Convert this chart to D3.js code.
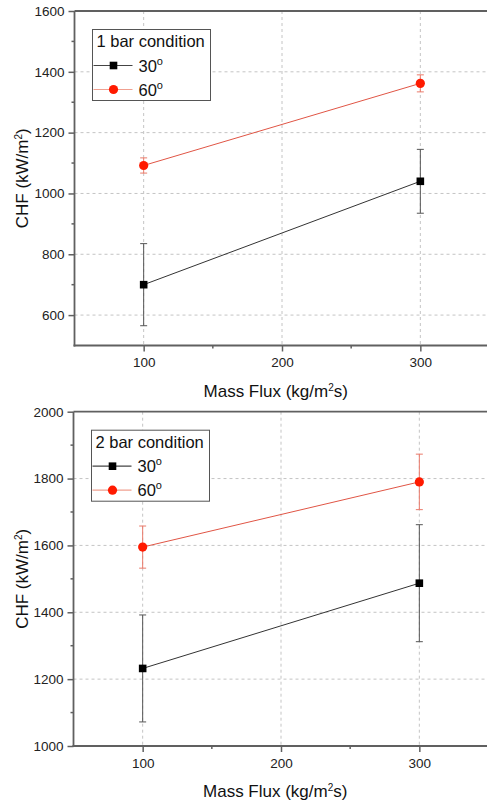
<!DOCTYPE html>
<html>
<head>
<meta charset="utf-8">
<script src="https://cdn.jsdelivr.net/npm/d3@7"></script>
<style>
  body { margin: 0; background: #fff; }
  svg { display: block; font-family: "Liberation Sans", Arial, sans-serif; }
</style>
</head>
<body>
<div id="chart"></div>
<script>
// x values (mass flux, kg/m2s)
var massFlux = [100, 300];

// 1 bar condition
var chf1bar30 = [700, 1040];
var err1bar30 = [135, 105];
var chf1bar60 = [1092, 1362];
var err1bar60 = [25, 28];

// 2 bar condition
var chf2bar30 = [1232, 1487];
var err2bar30 = [160, 175];
var chf2bar60 = [1595, 1790];
var err2bar60 = [63, 83];

var xMajor = [100, 200, 300];
var xMinor = [150, 250];
var yMajor1 = [600, 800, 1000, 1200, 1400, 1600];
var yMinor1 = [700, 900, 1100, 1300, 1500];
var yMajor2 = [1000, 1200, 1400, 1600, 1800, 2000];
var yMinor2 = [1100, 1300, 1500, 1700, 1900];

var W = 487, H = 803;
var axisCol = "#606060", gridCol = "#c4c4c4";
var blackCol = "#000", redCol = "#ff1a00";

var svg = d3.select("#chart").append("svg")
    .attr("width", W)
    .attr("height", H);

function drawPanel(p) {
    var x = d3.scaleLinear().domain([50, 350]).range([p.left, p.right]);
    var y = d3.scaleLinear().domain(p.yDomain).range([p.bottom, p.top]);
    var g = svg.append("g");

    // grid
    g.selectAll(".vgrid").data(xMajor).enter().append("line")
        .attr("x1", function(d) { return x(d); }).attr("x2", function(d) { return x(d); })
        .attr("y1", p.top).attr("y2", p.bottom)
        .attr("stroke", gridCol).attr("stroke-width", 1).attr("stroke-dasharray", "3,3");
    g.selectAll(".hgrid").data(p.yMajor.filter(function(d) { return d > p.yDomain[0] && d < p.yDomain[1]; }))
        .enter().append("line")
        .attr("x1", p.left).attr("x2", W)
        .attr("y1", function(d) { return y(d); }).attr("y2", function(d) { return y(d); })
        .attr("stroke", gridCol).attr("stroke-width", 1).attr("stroke-dasharray", "3,3");

    // axes
    var xAxis = d3.axisBottom(x).tickValues(xMajor).tickFormat(d3.format("d")).tickSize(6).tickPadding(6);
    var gx = g.append("g").attr("transform", "translate(0," + p.bottom + ")").call(xAxis);
    var yAxis = d3.axisLeft(y).tickValues(p.yMajor).tickFormat(d3.format("d")).tickSize(6).tickPadding(4);
    var gy = g.append("g").attr("transform", "translate(" + p.left + ",0)").call(yAxis);
    [gx, gy].forEach(function(a) {
        a.select(".domain").remove();
        a.selectAll("line").attr("stroke", axisCol).attr("stroke-width", 1.5);
        a.selectAll("text").attr("fill", "#222").style("font-size", "13.5px")
            .style("font-family", "Liberation Sans, Arial, sans-serif");
    });
    gx.selectAll("text").attr("dy", "0.72em");

    // minor ticks
    g.selectAll(".xminor").data(xMinor).enter().append("line")
        .attr("x1", function(d) { return x(d); }).attr("x2", function(d) { return x(d); })
        .attr("y1", p.bottom).attr("y2", p.bottom + 3)
        .attr("stroke", axisCol).attr("stroke-width", 1.5);
    g.selectAll(".yminor").data(p.yMinor).enter().append("line")
        .attr("x1", p.left - 3).attr("x2", p.left)
        .attr("y1", function(d) { return y(d); }).attr("y2", function(d) { return y(d); })
        .attr("stroke", axisCol).attr("stroke-width", 1.5);

    // frame lines
    g.append("line").attr("x1", p.left).attr("x2", p.left).attr("y1", p.top).attr("y2", p.bottom + 1)
        .attr("stroke", axisCol).attr("stroke-width", 1.8);
    g.append("line").attr("x1", p.left - 1).attr("x2", W).attr("y1", p.bottom).attr("y2", p.bottom)
        .attr("stroke", axisCol).attr("stroke-width", 1.8);
    g.append("line").attr("x1", p.left).attr("x2", W).attr("y1", p.top).attr("y2", p.top)
        .attr("stroke", axisCol).attr("stroke-width", 1.8);

    // series
    var line = d3.line().x(function(d) { return x(d[0]); }).y(function(d) { return y(d[1]); });
    p.series.forEach(function(s) {
        var pts = massFlux.map(function(m, i) { return [m, s.vals[i], s.errs[i]]; });
        // error bars
        var eb = g.append("g").attr("stroke", s.errCol).attr("stroke-width", 1);
        eb.selectAll(".ev").data(pts).enter().append("line")
            .attr("x1", function(d) { return x(d[0]); }).attr("x2", function(d) { return x(d[0]); })
            .attr("y1", function(d) { return y(d[1] - d[2]); }).attr("y2", function(d) { return y(d[1] + d[2]); });
        eb.selectAll(".et").data(pts).enter().append("line")
            .attr("x1", function(d) { return x(d[0]) - 3.5; }).attr("x2", function(d) { return x(d[0]) + 3.5; })
            .attr("y1", function(d) { return y(d[1] + d[2]); }).attr("y2", function(d) { return y(d[1] + d[2]); });
        eb.selectAll(".eb").data(pts).enter().append("line")
            .attr("x1", function(d) { return x(d[0]) - 3.5; }).attr("x2", function(d) { return x(d[0]) + 3.5; })
            .attr("y1", function(d) { return y(d[1] - d[2]); }).attr("y2", function(d) { return y(d[1] - d[2]); });
        g.append("path").datum(pts).attr("d", line)
            .attr("fill", "none").attr("stroke", s.lineCol).attr("stroke-width", 1);
        if (s.shape == "square") {
            g.selectAll(".sq").data(pts).enter().append("rect")
                .attr("x", function(d) { return x(d[0]) - 3.8; }).attr("y", function(d) { return y(d[1]) - 3.8; })
                .attr("width", 7.6).attr("height", 7.6).attr("fill", s.col);
        } else {
            g.selectAll(".ci").data(pts).enter().append("circle")
                .attr("cx", function(d) { return x(d[0]); }).attr("cy", function(d) { return y(d[1]); })
                .attr("r", 4.6).attr("fill", s.col);
        }
    });

    // axis titles
    var xt = g.append("text").attr("x", (p.left + 489) / 2 - 6).attr("y", p.bottom + 51)
        .attr("text-anchor", "middle").style("font-size", "17px").attr("fill", "#111");
    xt.append("tspan").text("Mass Flux (kg/m");
    xt.append("tspan").attr("dy", -6).style("font-size", "10px").text("2");
    xt.append("tspan").attr("dy", 6).text("s)");

    var yt = g.append("text")
        .attr("transform", "translate(" + 28 + "," + ((p.top + p.bottom) / 2) + ") rotate(-90)")
        .attr("text-anchor", "middle").style("font-size", "17px").attr("fill", "#111");
    yt.append("tspan").text("CHF (kW/m");
    yt.append("tspan").attr("dy", -6).style("font-size", "10px").text("2");
    yt.append("tspan").attr("dy", 6).text(")");

    // legend
    var lx = p.left + 18, ly = p.top + 18.5;
    var lg = g.append("g").attr("transform", "translate(" + lx + "," + ly + ")");
    lg.append("rect").attr("width", 118).attr("height", 71)
        .attr("fill", "#fff").attr("stroke", "#555").attr("stroke-width", 1);
    lg.append("text").attr("x", 4).attr("y", 17.5).style("font-size", "16.5px").attr("fill", "#111")
        .text(p.title);
    p.series.forEach(function(s, i) {
        var cy = 36 + i * 24;
        lg.append("line").attr("x1", 1).attr("x2", 40).attr("y1", cy).attr("y2", cy)
            .attr("stroke", s.legLine).attr("stroke-width", 1.2);
        if (s.shape == "square") {
            lg.append("rect").attr("x", 21 - 3.8).attr("y", cy - 3.8).attr("width", 7.6).attr("height", 7.6)
                .attr("fill", s.col);
        } else {
            lg.append("circle").attr("cx", 21).attr("cy", cy).attr("r", 4.6).attr("fill", s.col);
        }
        var t = lg.append("text").attr("x", 46).attr("y", cy + 6).style("font-size", "16.5px").attr("fill", "#111");
        t.append("tspan").text(s.name);
        t.append("tspan").attr("dy", -7).style("font-size", "11px").text("o");
    });
}

drawPanel({
    left: 74.5, right: 489.5, top: 11, bottom: 345.5,
    yDomain: [500, 1600], yMajor: yMajor1, yMinor: yMinor1,
    title: "1 bar condition",
    series: [
        {name: "30", vals: chf1bar30, errs: err1bar30, shape: "square", col: blackCol,
         lineCol: "#333", errCol: "#555", legLine: "#444"},
        {name: "60", vals: chf1bar60, errs: err1bar60, shape: "circle", col: redCol,
         lineCol: "#e05545", errCol: "#ea7a6a", legLine: "#f0a090"}
    ]
});

drawPanel({
    left: 73.5, right: 488.5, top: 411.7, bottom: 746,
    yDomain: [1000, 2000], yMajor: yMajor2, yMinor: yMinor2,
    title: "2 bar condition",
    series: [
        {name: "30", vals: chf2bar30, errs: err2bar30, shape: "square", col: blackCol,
         lineCol: "#333", errCol: "#555", legLine: "#444"},
        {name: "60", vals: chf2bar60, errs: err2bar60, shape: "circle", col: redCol,
         lineCol: "#e05545", errCol: "#ea7a6a", legLine: "#f0a090"}
    ]
});
</script>
</body>
</html>
